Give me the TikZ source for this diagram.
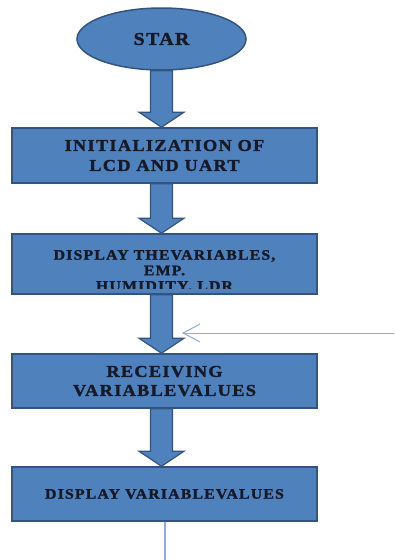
\documentclass[tikz,border=0pt]{standalone}
\usepackage{fontspec}
\newfontfamily\flowfont{Liberation Serif Bold}[FakeStretch=1.1, LetterSpace=8, FakeBold=1.6]
\usetikzlibrary{shapes.geometric,arrows.meta,calc}
\definecolor{boxblue}{RGB}{79,129,189}
\definecolor{boxedge}{RGB}{52,84,128}
\definecolor{linkblue}{RGB}{141,172,214}
\definecolor{inkdark}{RGB}{22,26,40}
\tikzset{
  stepbox/.style={draw=boxedge, line width=1.5pt, fill=boxblue, minimum width=305pt,
    minimum height=55pt, align=center, text=inkdark, inner sep=0pt,
    font=\flowfont\fontsize{16.6}{20}\selectfont},
  startnode/.style={ellipse, draw=boxedge, line width=1.5pt, fill=boxblue, minimum width=169pt,
    minimum height=62pt, text=inkdark, font=\flowfont\fontsize{18}{20}\selectfont},
  blockarrow/.style={draw=boxedge, line width=1.2pt, fill=boxblue,
    to path={let \p1=(\tikztostart), \p2=(\tikztotarget) in
      (\x1-11pt,\y1) -- (\x1+11pt,\y1) -- (\x1+11pt,\y2+15pt) -- (\x1+22.5pt,\y2+15pt)
      -- (\x1,\y2) -- (\x1-22.5pt,\y2+15pt) -- (\x1-11pt,\y2+15pt) -- cycle}},
  thinlink/.style={draw=linkblue, line width=1pt}
}
\begin{document}
\begin{tikzpicture}[x=1pt, y=1pt]
  \useasboundingbox (0,0) rectangle (394,-560);
  % flow boxes
  \node[startnode] (star) at (161.5,-39) {STAR};
  \node[stepbox] (init) at (164.5,-155.5) {INITIALIZATION OF\\LCD AND UART};
  \node[stepbox, minimum height=60pt] (show) at (164.5,-264) {};
  \begin{scope}
    \clip (show.north west) rectangle ($(show.south east)+(0,6)$);
    \node[align=center, text=inkdark, font=\flowfont\fontsize{14.4}{15.5}\selectfont] (showtext)
      at (164.5,-271.5) {DISPLAY THEVARIABLES,\\EMP.\\HUMIDITY, LDR};
  \end{scope}
  \node[stepbox, minimum height=54pt, font=\flowfont\fontsize{16.6}{19}\selectfont] (recv)
    at (164.5,-381) {RECEIVING\\VARIABLEVALUES};
  \node[stepbox, minimum height=54pt, font=\flowfont\fontsize{14.4}{16}\selectfont] (disp)
    at (164.5,-494) {DISPLAY VARIABLEVALUES};
  % block arrows
  \draw[blockarrow] (star.south) to (init.north);
  \draw[blockarrow] (init.south -| star.south) to (show.north);
  \draw[blockarrow] (show.south -| star.south) to (recv.north);
  \draw[blockarrow] (recv.south -| star.south) to (disp.north);
  % thin links
  \coordinate (feed) at (394,-333);
  \coordinate (hit) at (182,-333);
  \draw[thinlink, -{Straight Barb[length=17pt, width=18pt]}] (feed) -- (hit);
  \coordinate (tail) at (164.5,-560);
  \draw[thinlink, line width=2pt] (disp.south) -- (tail);
\end{tikzpicture}
\end{document}
